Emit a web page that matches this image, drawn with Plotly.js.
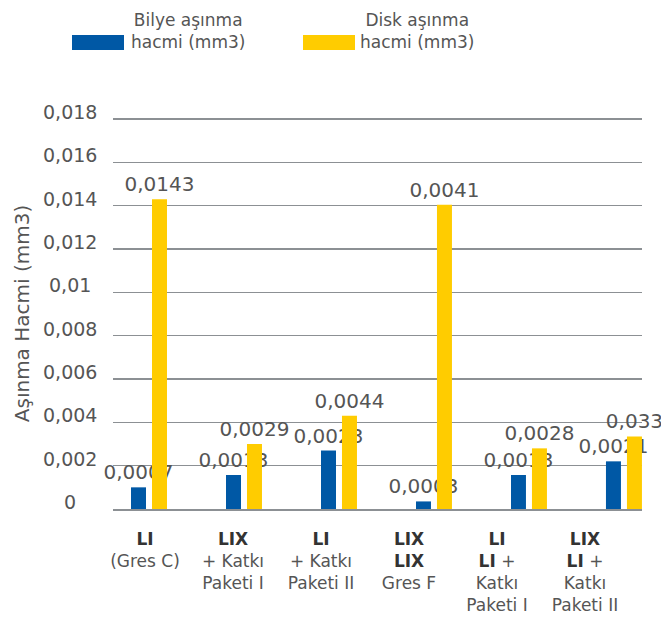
<!DOCTYPE html>
<html>
<head>
<meta charset="utf-8">
<script src="https://cdn.plot.ly/plotly-3.0.1.min.js"></script>
<style>html,body{margin:0;padding:0;background:#fff;}#chart{width:661px;height:618px;}</style>
</head>
<body>
<div id="chart"></div>
<script>
// ---- data ----
var categories = ["LI (Gres C)", "LIX + Katkı Paketi I", "LI + Katkı Paketi II", "LIX LIX Gres F", "LI LI + Katkı Paketi I", "LIX LI + Katkı Paketi II"];
var tickLines = [
  [["LI"], "(Gres C)"],
  [["LIX"], "+ Katkı", "Paketi I"],
  [["LI"], "+ Katkı", "Paketi II"],
  [["LIX"], ["LIX"], "Gres F"],
  [["LI"], [["LI"], " +"], "Katkı", "Paketi I"],
  [["LIX"], [["LI"], " +"], "Katkı", "Paketi II"]
];
var tickPositions = [0, 1, 2, 3, 4, 5];
var seriesNames = ["Bilye aşınma<br>hacmi (mm3)", "Disk aşınma<br>hacmi (mm3)"];
var bilyeValues = [0.001, 0.00157, 0.0027, 0.00035, 0.00157, 0.0022];
var diskValues = [0.0143, 0.003, 0.0043, 0.01405, 0.0028, 0.00335];
var bilyeLabels = ["0,0007", "0,0013", "0,0023", "0,0003", "0,0013", "0,0021"];
var diskLabels = ["0,0143", "0,0029", "0,0044", "0,0041", "0,0028", "0,033"];
var yTickValues = [0, 0.002, 0.004, 0.006, 0.008, 0.01, 0.012, 0.014, 0.016, 0.018];
var yTickLabels = ["0", "0,002", "0,004", "0,006", "0,008", "0,01", "0,012", "0,014", "0,016", "0,018"];
var yTitle = "Aşınma Hacmi (mm3)";

// ---- style ----
var W = 661, H = 618, L = 113, R = 19, T = 118, B = 109;
var PW = W - L - R, PH = H - T - B;
var FONT = "DejaVu Sans";
var TXT = "#555555";
var DARK = "#333333";
var GRID = "#8c9094";
var BLUE = "#0058a5", YELLOW = "#ffcc00";
function px(x) { return (x - L) / PW; }
function py(y) { return (H - B - y) / PH; }
function bold(s) { return '<span style="color:' + DARK + '"><b>' + s + '</b></span>'; }
function fmtPart(p) {
  if (typeof p === "string") return p;
  if (p.length === 1 && typeof p[0] === "string") return bold(p[0]);
  return p.map(fmtPart).join("");
}
var tickText = tickLines.map(function (lines) { return lines.map(fmtPart).join("<br>"); });

var traces = [
  {type: "bar", name: seriesNames[0], x: categories, y: bilyeValues, text: bilyeLabels,
   textposition: "outside", cliponaxis: false, constraintext: "none",
   textfont: {family: FONT, size: 20, color: TXT}, marker: {color: BLUE}, showlegend: false, hoverinfo: "none"},
  {type: "bar", name: seriesNames[1], x: categories, y: diskValues, text: diskLabels,
   textposition: "outside", cliponaxis: false, constraintext: "none",
   textfont: {family: FONT, size: 20, color: TXT}, marker: {color: YELLOW}, showlegend: false, hoverinfo: "none"},
  // carrier for the category label axis (draws nothing)
  {type: "scatter", mode: "markers", x: tickPositions, y: bilyeValues, xaxis: "x2", yaxis: "y",
   marker: {opacity: 0, size: 1}, showlegend: false, hoverinfo: "none"}
];

var annotations = yTickValues.map(function (v, i) {
  return {xref: "paper", yref: "y", x: px(70), y: v, text: yTickLabels[i], showarrow: false,
          xanchor: "center", yanchor: "middle", yshift: 7, font: {family: FONT, size: 19, color: TXT}};
});
var legendItems = [
  {sx0: 72, sx1: 124, tx: 187.5, color: BLUE, text: seriesNames[0]},
  {sx0: 303, sx1: 355, tx: 416.5, color: YELLOW, text: seriesNames[1]}
];
var shapes = [];
legendItems.forEach(function (it) {
  shapes.push({type: "rect", xref: "paper", yref: "paper", x0: px(it.sx0), x1: px(it.sx1), y0: py(50), y1: py(35),
               fillcolor: it.color, line: {width: 0}, layer: "above"});
  annotations.push({xref: "paper", yref: "paper", x: px(it.tx), y: py(31), text: it.text, showarrow: false,
                    xanchor: "center", yanchor: "middle", align: "center", font: {family: FONT, size: 17, color: TXT}});
});

var layout = {
  width: W, height: H,
  margin: {l: L, r: R, t: T, b: B, pad: 0},
  paper_bgcolor: "#fff", plot_bgcolor: "#fff",
  barmode: "group", bargap: 0.558, bargroupgap: 0.286,
  font: {family: FONT, color: TXT},
  xaxis: {type: "category", range: [-0.379, 5.19], showticklabels: false, ticks: "", showgrid: false,
          zeroline: false, showline: true, linecolor: GRID, linewidth: 1.5, fixedrange: true},
  xaxis2: {overlaying: "x", anchor: "y", side: "bottom", type: "linear", range: [-0.364, 5.648],
           tickmode: "array", tickvals: tickPositions, ticktext: tickText, ticks: "",
           showgrid: false, zeroline: false, showline: false, tickfont: {family: FONT, size: 17, color: TXT},
           ticklabelstandoff: 18, fixedrange: true},
  yaxis: {range: [0, 0.01805], tickmode: "array", tickvals: yTickValues, showticklabels: false, ticks: "",
          showgrid: true, gridcolor: GRID, gridwidth: 1.5, zeroline: false, showline: false, fixedrange: true,
          title: {text: yTitle, font: {family: FONT, size: 20, color: TXT}, standoff: 77}},
  annotations: annotations,
  shapes: shapes,
  showlegend: false
};

Plotly.newPlot("chart", traces, layout, {displayModeBar: false, staticPlot: true});
</script>
</body>
</html>
